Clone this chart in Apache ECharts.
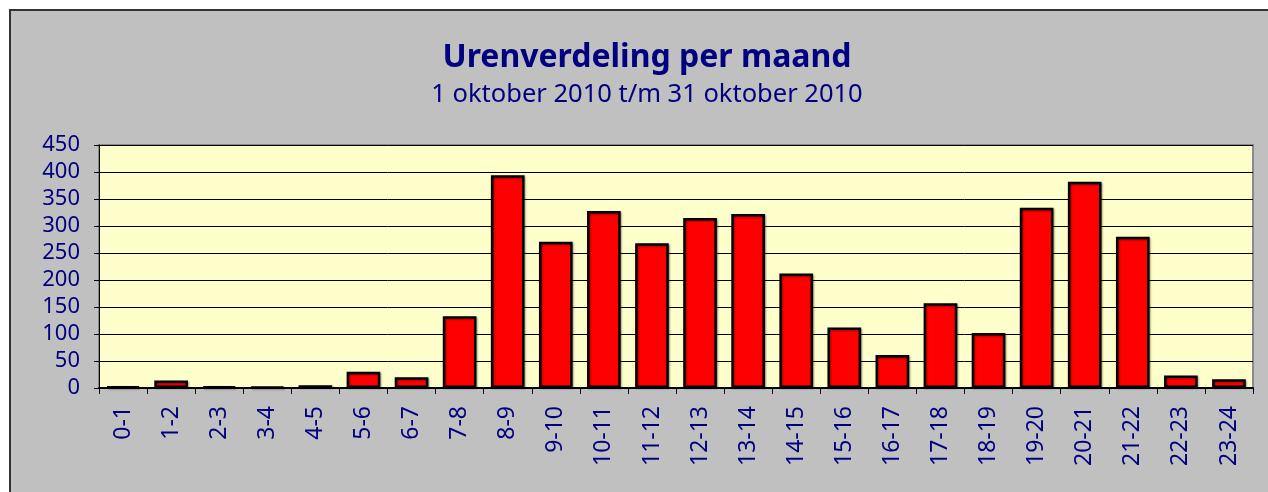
<!DOCTYPE html>
<html>
<head>
<meta charset="utf-8">
<script src="https://cdn.jsdelivr.net/npm/echarts@6/dist/echarts.min.js"></script>
<style>
  html, body { margin: 0; padding: 0; background: #ffffff; width: 1268px; height: 492px; overflow: hidden; }
  #panel { position: absolute; left: 9px; top: 9px; width: 1270px; height: 490px; box-sizing: border-box;
           background: #C0C0C0; border: 2px solid #333333; }
  #chart { position: absolute; left: 0; top: 0; width: 1268px; height: 492px; }
</style>
</head>
<body>
<div id="panel"></div>
<div id="chart"></div>
<script>
const titleText = 'Urenverdeling per maand';
const subtitleText = '1 oktober 2010 t/m 31 oktober 2010';
const categories = ['0-1','1-2','2-3','3-4','4-5','5-6','6-7','7-8','8-9','9-10','10-11','11-12',
                    '12-13','13-14','14-15','15-16','16-17','17-18','18-19','19-20','20-21','21-22','22-23','23-24'];
const hours = [3, 14, 3, 2, 5, 30, 20, 133, 394, 271, 328, 268,
               315, 322, 212, 112, 61, 157, 102, 334, 382, 280, 23, 16];
const yMin = 0, yMax = 450, yStep = 50;

const FONT = '"Noto Sans", "Open Sans", sans-serif';
const NAVY = '#000080';

const chart = echarts.init(document.getElementById('chart'), null, { renderer: 'canvas' });
chart.setOption({
  backgroundColor: 'transparent',
  animation: false,
  title: {
    text: titleText,
    subtext: subtitleText,
    left: 642,
    textAlign: 'center',
    top: 37,
    itemGap: 8,
    textStyle: { color: NAVY, fontFamily: FONT, fontWeight: 'bold', fontSize: 32 },
    subtextStyle: { color: NAVY, fontFamily: FONT, fontSize: 25.5 }
  },
  grid: {
    left: 99, right: 15, top: 145, bottom: 104,
    show: true, backgroundColor: '#FFFFCC', borderColor: '#8a8a8a', borderWidth: 2
  },
  xAxis: {
    type: 'category',
    data: categories,
    boundaryGap: true,
    axisLine: { show: true, lineStyle: { color: '#000000', width: 2 } },
    axisTick: { show: true, alignWithLabel: false, length: 6, lineStyle: { color: '#000000', width: 1 } },
    axisLabel: { rotate: 90, color: NAVY, fontFamily: FONT, fontSize: 23, margin: 18, interval: 0 },
    splitLine: { show: false }
  },
  yAxis: {
    type: 'value',
    min: yMin, max: yMax, interval: yStep,
    axisLine: { show: true, lineStyle: { color: '#000000', width: 1 } },
    axisTick: { show: true, length: 5, lineStyle: { color: '#000000' } },
    axisLabel: { color: NAVY, fontFamily: FONT, fontSize: 22, margin: 19 },
    splitLine: { show: true, lineStyle: { color: '#000000', width: 1 } }
  },
  series: [{
    type: 'bar',
    data: hours,
    barCategoryGap: '30%',
    itemStyle: { color: '#FF0000', borderColor: '#000000', borderWidth: 2.5,
                 shadowColor: 'rgba(0,0,0,0.35)', shadowBlur: 2, shadowOffsetX: 1, shadowOffsetY: 1 }
  }]
});
</script>
</body>
</html>
